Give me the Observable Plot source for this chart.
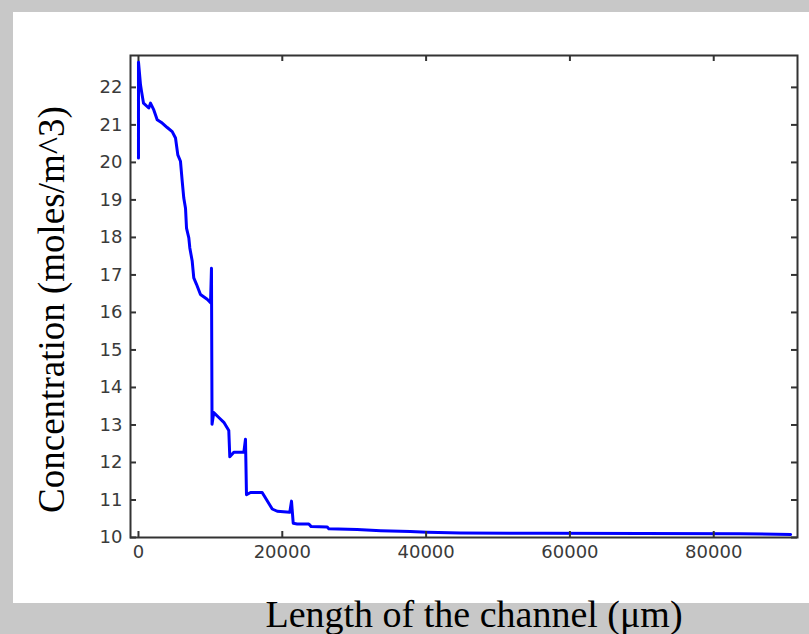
<!DOCTYPE html>
<html>
<head>
<meta charset="utf-8">
<script src="https://cdn.jsdelivr.net/npm/d3@7"></script>
<script src="https://cdn.jsdelivr.net/npm/@observablehq/plot@0.6"></script>
<style>
  html, body { margin: 0; padding: 0; }
  body { width: 809px; height: 634px; background: #c8c8c8; position: relative; overflow: hidden; }
  #panel { position: absolute; left: 13px; top: 12px; width: 796px; height: 591px; background: #ffffff; }
  #chart { position: absolute; left: 13px; top: 12px; }
  #xlabel { position: absolute; left: 0; width: 948px; top: 595px; line-height: 38px; text-align: center;
            font-family: "Liberation Serif", "Times New Roman", serif; font-size: 38px; color: #000; white-space: nowrap; }
</style>
</head>
<body>
<div id="panel"></div>
<div id="chart"></div>
<div id="xlabel">Length of the channel (μm)</div>
<script>
// Data
const lengthUm = [0, 0, 280, 420, 700, 1430, 1670, 2130, 2600, 3300, 4000, 4690, 5150, 5470, 5840, 6080, 6300, 6540, 6680, 7000, 7140, 7470, 7690, 8070, 8620, 9550, 10020, 10150, 10230, 10470, 11170, 11870, 12560, 12700, 13260, 14650, 14880, 15020, 15580, 17200, 17900, 18600, 19290, 21040, 21280, 21520, 22070, 23690, 24020, 26250, 26470, 30400, 33700, 37800, 40150, 44800, 56400, 83700, 90700];
const concentration = [20.12, 22.68, 22.07, 21.9, 21.58, 21.45, 21.58, 21.4, 21.14, 21.05, 20.93, 20.82, 20.65, 20.2, 20.03, 19.5, 19.05, 18.78, 18.25, 17.99, 17.72, 17.37, 16.92, 16.75, 16.48, 16.35, 16.26, 17.18, 13.02, 13.33, 13.2, 13.07, 12.85, 12.15, 12.27, 12.27, 12.62, 11.14, 11.2, 11.2, 10.98, 10.76, 10.7, 10.67, 10.97, 10.38, 10.36, 10.36, 10.29, 10.28, 10.23, 10.21, 10.18, 10.16, 10.14, 10.12, 10.11, 10.1, 10.08];
const xTicks = [0, 20000, 40000, 60000, 80000];
const yTicks = [10, 11, 12, 13, 14, 15, 16, 17, 18, 19, 20, 21, 22];
const yLabel = "Concentration (moles/m^3)";

const data = lengthUm.map((x, i) => ({x, y: concentration[i]}));

const W = 796, H = 591;
const mL = 117, mR = 12, mT = 43, mB = 66;
const innerW = W - mL - mR, innerH = H - mT - mB;
const tickLen = 6;
const frameColor = "#333";

const chart = Plot.plot({
  width: W, height: H,
  marginLeft: mL, marginRight: mR, marginTop: mT, marginBottom: mB,
  style: { background: "transparent", fontFamily: "DejaVu Sans, sans-serif", overflow: "visible" },
  x: { domain: [-1110, 91650] },
  y: { domain: [10, 22.85] },
  marks: [
    Plot.line(data, { x: "x", y: "y", stroke: "#0000ff", strokeWidth: 3, strokeLinejoin: "round" }),
    Plot.frame({ stroke: frameColor, strokeWidth: 2 }),
    Plot.tickX(xTicks, { x: d => d, insetTop: innerH - tickLen, stroke: frameColor, strokeWidth: 2 }),
    Plot.tickX(xTicks, { x: d => d, insetBottom: innerH - tickLen, stroke: frameColor, strokeWidth: 2 }),
    Plot.tickY(yTicks, { y: d => d, insetRight: innerW - tickLen, stroke: frameColor, strokeWidth: 2 }),
    Plot.tickY(yTicks, { y: d => d, insetLeft: innerW - tickLen, stroke: frameColor, strokeWidth: 2 }),
    Plot.axisX({ ticks: xTicks, tickSize: 0, tickPadding: 8, label: null, tickFormat: d3.format("d"),
                 fontSize: 18, fill: "#3a3a3a", fontFamily: "DejaVu Sans" }),
    Plot.axisY({ ticks: yTicks, tickSize: 0, tickPadding: 8, label: null, tickFormat: d3.format("d"),
                 fontSize: 18, fill: "#3a3a3a", fontFamily: "DejaVu Sans" }),
    Plot.text([yLabel], { text: d => d, frameAnchor: "left", textAnchor: "middle", lineAnchor: "middle",
                          rotate: -90, dx: -78, dy: 13,
                          fontSize: 37, fontFamily: "Liberation Serif", fill: "#000" })
  ]
});
document.getElementById("chart").appendChild(chart);
</script>
</body>
</html>
